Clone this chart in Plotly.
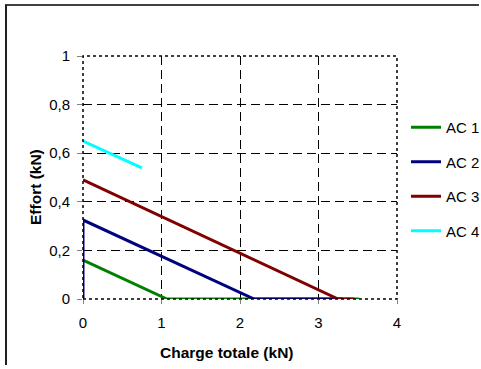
import plotly.graph_objects as go

# Data
ac1_x = [0, 1.07, 3.52]
ac1_y = [0.16, 0, 0]
ac2_x = [0, 0, 2.18, 3.3]
ac2_y = [0, 0.325, 0, 0]
ac3_x = [0, 3.25, 3.45]
ac3_y = [0.49, 0, 0]
ac4_x = [0, 0.75]
ac4_y = [0.65, 0.54]

series = [
    ("AC 1", ac1_x, ac1_y, "#008000"),
    ("AC 2", ac2_x, ac2_y, "#000080"),
    ("AC 3", ac3_x, ac3_y, "#800000"),
    ("AC 4", ac4_x, ac4_y, "#00FFFF"),
]

x_ticks = [0, 1, 2, 3, 4]
y_ticks = [0, 0.2, 0.4, 0.6, 0.8, 1]
y_ticktext = ["0", "0,2", "0,4", "0,6", "0,8", "1"]

fig = go.Figure()
for i, (name, xs, ys, col) in enumerate(series):
    fig.add_trace(go.Scatter(x=xs, y=ys, mode="lines", name=name,
                             legendgroup=f"g{i}",
                             line=dict(color=col, width=3)))

L, R, T, B = 83, 84, 56, 70
W, H = 481, 369
pw, ph = W - L - R, H - T - B

font = dict(family="Liberation Sans, Arial, sans-serif", size=15, color="black")

fig.update_layout(
    width=W, height=H,
    margin=dict(l=L, r=R, t=T, b=B, autoexpand=False),
    paper_bgcolor="white", plot_bgcolor="white",
    separators=", ",
    font=font,
    showlegend=True,
    legend=dict(x=1.0 + (407 - 397 - 1) / pw, y=1 - (127 - 56 - 16) / ph,
                xanchor="left", yanchor="top",
                tracegroupgap=12, font=font,
                bgcolor="rgba(0,0,0,0)", itemwidth=30),
    xaxis=dict(range=[0, 4], tickvals=x_ticks, showgrid=True,
               gridcolor="black", griddash="9px,5px", gridwidth=1,
               zeroline=False, showline=False, ticks="outside",
               ticklen=4, tickcolor="#808080", tickfont=font,
               ticklabelstandoff=6),
    yaxis=dict(range=[0, 1], tickvals=y_ticks, ticktext=y_ticktext,
               showgrid=True,
               gridcolor="black", griddash="9px,5px", gridwidth=1,
               zeroline=False, showline=False, ticks="outside",
               ticklen=5, tickcolor="#808080", tickfont=font,
               ticklabelstandoff=4),
)

# Dotted plot-area border
fig.add_shape(type="rect", xref="paper", yref="paper", x0=0, y0=0, x1=1, y1=1,
              line=dict(color="black", width=1.5, dash="dot"), layer="above")

# Outer chart frame (partly visible): top and left edges
fx0 = (5 - L) / pw
fx1 = (7 - L) / pw
fy = 1 + (T - 5) / ph
fx_end = (W - 2 - L) / pw
fy_end = -(H - 4 - T - ph) / ph
fig.add_shape(type="line", xref="paper", yref="paper", x0=fx0, y0=fy, x1=fx_end, y1=fy,
              line=dict(color="black", width=1.5))
fig.add_shape(type="rect", xref="paper", yref="paper", x0=fx0, y0=fy_end, x1=fx1, y1=fy,
              fillcolor="#202020", line=dict(width=0))

bold = dict(family="Liberation Sans, Arial, sans-serif", size=15.5, color="black")
fig.add_annotation(text="<b>Charge totale (kN)</b>", xref="paper", yref="paper",
                   x=(227 - L) / pw, y=-(352 - (T + ph)) / ph, showarrow=False,
                   font=bold, xanchor="center", yanchor="middle")
fig.add_annotation(text="<b>Effort (kN)</b>", xref="paper", yref="paper",
                   x=(35 - L) / pw, y=(T + ph - 187) / ph, showarrow=False,
                   font=bold, textangle=-90, xanchor="center", yanchor="middle")

fig.write_html("out.html",
               config={"displayModeBar": False},
               post_script="document.body.style.margin='0';"
                           "document.body.style.overflow='hidden';"
                           "document.documentElement.style.overflow='hidden';")
